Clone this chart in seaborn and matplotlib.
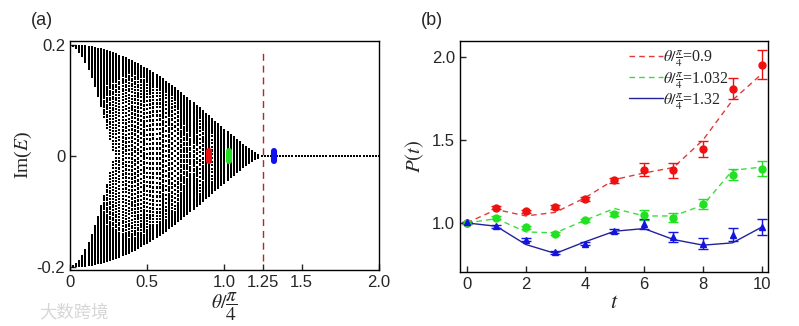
import numpy as np
import pandas as pd
import matplotlib
matplotlib.use("Agg")
import matplotlib.pyplot as plt
import seaborn as sns

# ---------------- panel (a): Im(E) of the quasienergy spectrum ----------------
gamma0 = 0.2                 # gain/loss strength -> |Im(E)| at theta = 0
theta_pt = 1.25              # PT-breaking threshold (units of pi/4)
theta_step = 0.02            # sampling of the coin angle
mode_rates = np.linspace(0.0, 5.4, 50)   # phase-winding rate of each mode pair
marked_theta = [0.9, 1.032, 1.32]
marked_colors = ["#ee1111", "#22dd22", "#1111ee"]

# ---------------- panel (b): P(t) ----------------
t_steps = list(range(11))
exp_09 = [1.0, 1.093, 1.069, 1.096, 1.145, 1.257, 1.322, 1.317, 1.446, 1.81, 1.954]
err_09 = [0.004, 0.01, 0.01, 0.01, 0.012, 0.014, 0.038, 0.044, 0.05, 0.065, 0.088]
th_09 = [1.0, 1.081, 1.042, 1.064, 1.151, 1.261, 1.301, 1.334, 1.5, 1.74, 1.9]
exp_1032 = [1.0, 1.032, 0.974, 0.936, 1.016, 1.052, 1.05, 1.032, 1.113, 1.291, 1.328]
err_1032 = [0.004, 0.008, 0.008, 0.008, 0.01, 0.012, 0.03, 0.027, 0.03, 0.032, 0.046]
th_1032 = [1.0, 1.026, 0.946, 0.94, 1.016, 1.087, 1.042, 1.042, 1.107, 1.317, 1.337]
exp_132 = [1.003, 0.98, 0.90, 0.822, 0.876, 0.952, 0.992, 0.916, 0.876, 0.93, 0.976]
err_132 = [0.004, 0.008, 0.01, 0.008, 0.01, 0.012, 0.03, 0.032, 0.032, 0.037, 0.047]
th_132 = [1.0, 0.98, 0.87, 0.816, 0.886, 0.95, 0.966, 0.9, 0.866, 0.88, 0.976]
series_labels = [r"$\theta/\frac{\pi}{4}$=0.9", r"$\theta/\frac{\pi}{4}$=1.032",
                 r"$\theta/\frac{\pi}{4}$=1.32"]
line_colors = ["#e23a3a", "#3ddc3d", "#22229a"]
point_colors = ["#ee1111", "#22e022", "#1414e0"]

sns.set_style("ticks")
plt.rcParams["font.family"] = ["Liberation Sans", "DejaVu Sans"]
plt.rcParams["mathtext.fontset"] = "stix"
plt.rcParams["axes.unicode_minus"] = False
plt.rcParams["axes.linewidth"] = 1.0

fig = plt.figure(figsize=(7.99, 3.26), dpi=100)
ax1 = fig.add_axes([0.0876, 0.172, 0.3867, 0.702])
ax2 = fig.add_axes([0.5757, 0.166, 0.3855, 0.708])


def spectrum(theta):
    env = gamma0 * np.clip(1.0 - (theta / theta_pt) ** 2, 0.0, None) ** 1.4
    branch = env * np.abs(np.cos(mode_rates * theta))
    return np.concatenate([branch, -branch])


thetas = np.round(np.arange(0.0, 2.0 + 1e-9, theta_step), 4)
rows = []
for th in thetas:
    for v in spectrum(th):
        rows.append((th, v))
spec = pd.DataFrame(rows, columns=["theta", "imE"])

sns.scatterplot(data=spec, x="theta", y="imE", ax=ax1, marker="s", s=0.9,
                color="black", linewidth=0, legend=False)

for th, c in zip(marked_theta, marked_colors):
    ax1.plot([th, th], [-0.009, 0.009], color=c, lw=4.4,
             solid_capstyle="round", zorder=5)

ax1.plot([theta_pt, theta_pt], [-0.19, 0.19], color="#b02828", lw=1.0,
         ls=(0, (5, 3.5)), zorder=4)

ax1.set_xlim(0, 2.0)
ax1.set_ylim(-0.206, 0.208)
ax1.set_xticks([0, 0.5, 1.0, 1.25, 1.5, 2.0])
ax1.set_xticklabels(["0", "0.5", "1.0", "1.25", "1.5", "2.0"])
ax1.set_yticks([-0.2, 0, 0.2])
ax1.set_yticklabels(["-0.2", "0", "0.2"])
ax1.tick_params(direction="in", length=4, width=1, labelsize=12)
ax1.set_xlabel(r"$\theta/\dfrac{\pi}{4}$", fontsize=14, labelpad=1)
ax1.set_ylabel(r"Im($E$)", fontsize=14, family="Liberation Serif", labelpad=2)

# ---------------- panel (b) ----------------
curves = [(exp_09, err_09, th_09, "o", (0, (4, 3))),
          (exp_1032, err_1032, th_1032, "o", (0, (4, 3))),
          (exp_132, err_132, th_132, "^", "-")]
for i, (ex, er, th, mk, ls) in enumerate(curves):
    df = pd.DataFrame({"t": t_steps, "P": th})
    sns.lineplot(data=df, x="t", y="P", ax=ax2, color=line_colors[i], lw=1.0,
                 linestyle=ls, label=series_labels[i])
    ax2.errorbar(t_steps, ex, yerr=er, fmt=mk, color=point_colors[i],
                 ms=5, capsize=3.5, elinewidth=1.0, capthick=1.0, zorder=3)

ax2.set_xlim(-0.23, 10.2)
ax2.set_ylim(0.705, 2.096)
ax2.set_xticks([0, 2, 4, 6, 8, 10])
ax2.set_yticks([1.0, 1.5, 2.0])
ax2.set_yticklabels(["1.0", "1.5", "2.0"])
ax2.tick_params(direction="in", length=4, width=1, labelsize=12)
ax2.set_xlabel(r"$t$", fontsize=16, labelpad=0)
ax2.set_ylabel(r"$P(t)$", fontsize=15, labelpad=4)
ax2.legend(loc="upper right", bbox_to_anchor=(0.895, 1.0), frameon=False,
           handlelength=2.1, handletextpad=0.0, labelspacing=0.02,
           borderaxespad=0.05, prop={"family": "Liberation Serif", "size": 11.5})

for ax in (ax1, ax2):
    for s in ax.spines.values():
        s.set_visible(True)
        s.set_color("black")

fig.text(0.0526, 0.938, "(a)", fontsize=13, ha="center", va="center")
fig.text(0.541, 0.936, "(b)", fontsize=13, ha="center", va="center")
fig.text(0.093, 0.043, "大数跨境", fontsize=12.5, color="#d6d6d6", ha="center",
         va="center", family=["Noto Sans CJK SC", "DejaVu Sans"])

fig.savefig("out.png", dpi=100)
